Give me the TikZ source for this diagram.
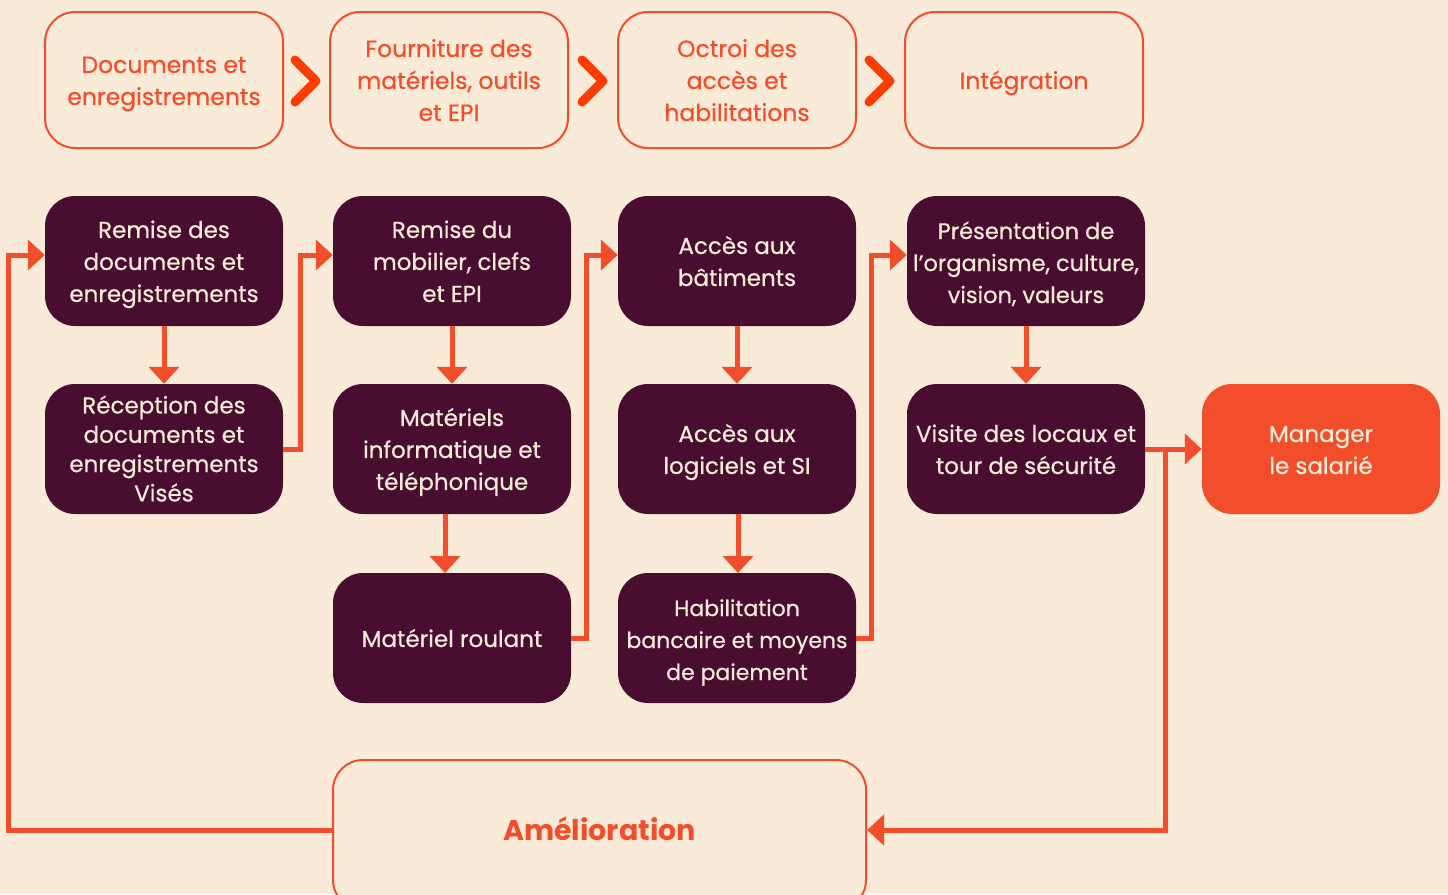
\documentclass[tikz,border=0pt]{standalone}
\usepackage{fontspec}
\setmainfont{Poppins}[UprightFeatures={FakeBold=0.6}]
\usetikzlibrary{arrows.meta}
\definecolor{bg}{HTML}{FAEBD8}
\definecolor{orng}{HTML}{F24E2C}
\definecolor{chev}{HTML}{FF3C00}
\definecolor{maroon}{HTML}{480D2F}
\newcommand{\boxtext}[1]{\raisebox{-8.8pt}[0pt][0pt]{\begin{tabular}{@{}c@{}}#1\end{tabular}}}
\begin{document}
\begin{tikzpicture}[x=1pt,y=-1pt,
  box/.style={rectangle,rounded corners=30pt,minimum width=238pt,minimum height=130pt,inner sep=0pt,font=\fontsize{23}{32}\selectfont},
  topbox/.style={box,draw=orng,line width=2pt,fill=bg,text=orng,minimum height=136pt,font=\fontsize{23.5}{32}\selectfont},
  dark/.style={box,fill=maroon,text=bg},
  flow/.style={draw=orng,line width=5pt,-{Triangle[length=17pt,width=30pt]}},
  chevron/.style={draw=chev,line width=9pt,line cap=round,line join=round}]
\useasboundingbox (0,0) rectangle (1448,894);
\fill[bg] (0,0) rectangle (1448,894);
% top row
\node[topbox] (t1) at (164,80) {\boxtext{Documents et\\enregistrements}};
\node[topbox] (t2) at (449,80) {\boxtext{Fourniture des\\matériels, outils\\et EPI}};
\node[topbox] (t3) at (737,80) {\boxtext{Octroi des\\accès et\\habilitations}};
\node[topbox] (t4) at (1024,80) {\boxtext{Intégration}};
\draw[chevron] (295,60) -- (316,81) -- (295,102);
\draw[chevron] (582,60) -- (603,81) -- (582,102);
\draw[chevron] (869,60) -- (890,81) -- (869,102);
% dark boxes
\node[dark] (a1) at (164,261) {\boxtext{Remise des\\documents et\\enregistrements}};
\node[dark,font=\fontsize{23}{29.3}\selectfont] (a2) at (164,449) {\boxtext{Réception des\\documents et\\enregistrements\\Visés}};
\node[dark] (b1) at (452,261) {\boxtext{Remise du\\mobilier, clefs\\et EPI}};
\node[dark] (b2) at (452,449) {\boxtext{Matériels\\informatique et\\téléphonique}};
\node[dark] (b3) at (452,638) {\boxtext{Matériel roulant}};
\node[dark] (c1) at (737,261) {\boxtext{Accès aux\\bâtiments}};
\node[dark] (c2) at (737,449) {\boxtext{Accès aux\\logiciels et SI}};
\node[dark,font=\fontsize{22}{32}\selectfont] (c3) at (737,638) {\boxtext{Habilitation\\bancaire et moyens\\de paiement}};
\node[dark,font=\fontsize{22.5}{32}\selectfont] (d1) at (1026,261) {\boxtext{Présentation de\\l’organisme, culture,\\vision, valeurs}};
\node[dark] (d2) at (1026,449) {\boxtext{Visite des locaux et\\tour de sécurité}};
\node[box,fill=orng,text=bg] (m) at (1321,449) {\boxtext{Manager\\le salarié}};
\begin{scope}
\clip (0,0) rectangle (1448,894);
\node[topbox,minimum width=533pt,minimum height=150pt] (am) at (599.5,835) {};
\end{scope}
\node[text=orng,font=\fontsize{28.5}{32}\selectfont\bfseries] (amt) at (599.5,829) {Amélioration};
% vertical arrows
\draw[flow] (a1.south) -- (a2.north);
\draw[flow] (b1.south) -- (b2.north);
\draw[flow] (445,514) -- (445,573);
\draw[flow] (c1.south) -- (c2.north);
\draw[flow] (738,514) -- (738,573);
\draw[flow] (d1.south) -- (d2.north);
% feedback connectors
\draw[flow] (a2.east) -- (300,449) -- (300,255) -- (b1.west |- 0,255);
\draw[flow] (b3.east) -- (586,638) -- (586,255) -- (c1.west |- 0,255);
\draw[flow] (c3.east) -- (871,638) -- (871,255) -- (d1.west |- 0,255);
\draw[flow] (d2.east) -- (m.west);
\coordinate (br) at (1165,449);
\draw[flow] (br) -- (1165,830) -- (am.east |- 0,830);
\draw[flow] (am.west |- 0,830) -- (8,830) -- (8,255) -- (a1.west |- 0,255);
\end{tikzpicture}
\end{document}
